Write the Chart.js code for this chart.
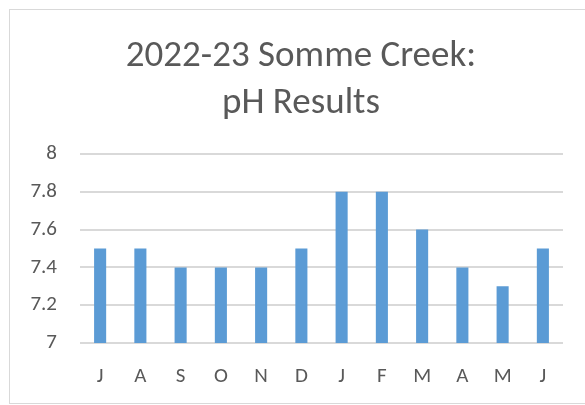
<!DOCTYPE html>
<html>
<head>
<meta charset="utf-8">
<script src="https://cdn.jsdelivr.net/npm/chart.js@4"></script>
<style>
    body { margin: 0; background: #fff; overflow: hidden; }
    #frame {
        position: absolute; left: 9px; top: 9px; width: 600px; height: 393px;
        border: 1px solid #d9d9d9; pointer-events: none;
    }
    #phChart { position: absolute; left: 0; top: 0; }
</style>
</head>
<body>
<canvas id="phChart" width="585" height="405"></canvas>
<div id="frame"></div>
<script>
const months = ['J', 'A', 'S', 'O', 'N', 'D', 'J', 'F', 'M', 'A', 'M', 'J'];
const phValues = [7.5, 7.5, 7.4, 7.4, 7.4, 7.5, 7.8, 7.8, 7.6, 7.4, 7.3, 7.5];
const titleLines = ['2022-23 Somme Creek:', 'pH Results'];
const yMin = 7;
const yMax = 8;
const yStep = 0.2;

const textColor = '#595959';
const gridColor = '#d9d9d9';
const fontFamily = "Carlito, Calibri, 'Open Sans', sans-serif";

// the excel frame runs past the right edge, so its title sits a bit right of the plot centre
const nudgeTitle = {
    id: 'nudgeTitle',
    afterLayout(chart) {
        if (chart.titleBlock) chart.titleBlock.left += 12;
    }
};

const ctx = document.getElementById('phChart').getContext('2d');

const phChart = new Chart(ctx, {
    type: 'bar',
    data: {
        labels: months,
        datasets: [{
            label: 'pH',
            data: phValues,
            backgroundColor: '#5b9bd5',
            borderWidth: 0,
            barPercentage: 0.6,
            categoryPercentage: 0.5
        }]
    },
    options: {
        responsive: false,
        animation: false,
        layout: {
            padding: { left: 27, right: 22, top: 33, bottom: 0 }
        },
        plugins: {
            legend: { display: false },
            tooltip: { enabled: false },
            title: {
                display: true,
                text: titleLines,
                color: textColor,
                font: { family: fontFamily, size: 37, weight: 'normal', lineHeight: 1.27 },
                padding: { top: 0, bottom: 27 }
            }
        },
        scales: {
            x: {
                afterFit: (scale) => { scale.height = 62; },
                grid: { display: false, drawTicks: false },
                border: { display: false },
                ticks: {
                    color: textColor,
                    font: { family: fontFamily, size: 21 },
                    padding: 21,
                    maxRotation: 0,
                    autoSkip: false
                }
            },
            y: {
                min: yMin,
                max: yMax,
                afterFit: (scale) => { scale.width = 53; },
                grid: { color: gridColor, lineWidth: 2, drawTicks: false },
                border: { display: false },
                ticks: {
                    stepSize: yStep,
                    color: textColor,
                    font: { family: fontFamily, size: 21 },
                    padding: 23,
                    callback: (v) => String(+Number(v).toFixed(1))
                }
            }
        }
    },
    plugins: [nudgeTitle]
});
</script>
</body>
</html>
